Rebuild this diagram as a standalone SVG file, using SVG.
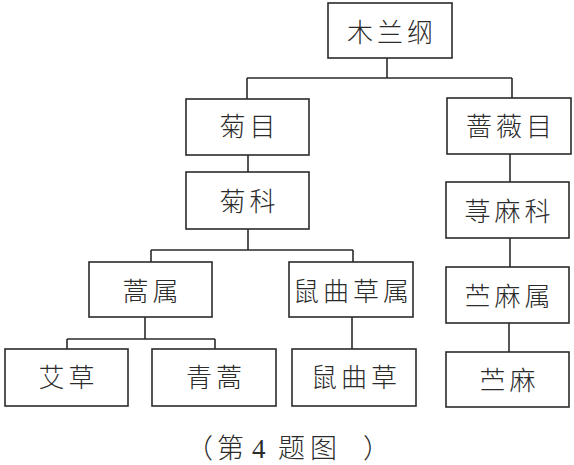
<svg xmlns="http://www.w3.org/2000/svg" width="574" height="465" viewBox="0 0 574 465">
<style>
.box{fill:#fff;stroke:#2b2b2b;stroke-width:1.6}
.lbl{font-family:"Noto Sans CJK SC","Noto Sans CJK JP",sans-serif;font-size:26px;font-weight:300;letter-spacing:4px;fill:#2b2b2b;text-anchor:middle}
.con{fill:none;stroke:#2b2b2b;stroke-width:1.6}
.cap{font-family:"Liberation Serif","Noto Sans CJK SC",serif;font-size:27px;font-weight:300;fill:#2b2b2b}
</style>
<rect width="574" height="465" fill="#fff"/>
<g id="connectors" class="con">
<path d="M387 58V78M247 78H512M247 78V99M512 78V98"/>
<path d="M248 155V172"/>
<path d="M510 154V182"/>
<path d="M248 229V250M151 250H353M151 250V262M353 250V262"/>
<path d="M510 238V267"/>
<path d="M145 317V339M67 339H215M67 339V349M215 339V349"/>
<path d="M352 317V349"/>
<path d="M509 323V352"/>
</g>
<g id="n-mulan"><rect class="box" x="328" y="3" width="124" height="55"/><text class="lbl" x="392" y="41.5">木兰纲</text></g>
<g id="n-jumu"><rect class="box" x="186" y="99" width="123" height="56"/><text class="lbl" x="249.5" y="135.5">菊目</text></g>
<g id="n-qiangweimu"><rect class="box" x="447" y="98" width="124" height="56"/><text class="lbl" x="511" y="135.5">蔷薇目</text></g>
<g id="n-juke"><rect class="box" x="186" y="172" width="123" height="57"/><text class="lbl" x="249.5" y="210.5">菊科</text></g>
<g id="n-qianmake"><rect class="box" x="446" y="182" width="123" height="56"/><text class="lbl" x="509.5" y="220.5">荨麻科</text></g>
<g id="n-haoshu"><rect class="box" x="89" y="262" width="123" height="55"/><text class="lbl" x="152.5" y="300.5">蒿属</text></g>
<g id="n-shuqucaoshu"><rect class="box" x="289" y="262" width="124" height="55"/><text class="lbl" x="353" y="300.5">鼠曲草属</text></g>
<g id="n-zhumashu"><rect class="box" x="446" y="267" width="123" height="56"/><text class="lbl" x="509.5" y="305.5">苎麻属</text></g>
<g id="n-aicao"><rect class="box" x="5" y="349" width="123" height="57"/><text class="lbl" x="68.5" y="386.5">艾草</text></g>
<g id="n-qinghao"><rect class="box" x="152" y="349" width="124" height="57"/><text class="lbl" x="216" y="386.5">青蒿</text></g>
<g id="n-shuqucao"><rect class="box" x="292" y="349" width="124" height="57"/><text class="lbl" x="356" y="386.5">鼠曲草</text></g>
<g id="n-zhuma"><rect class="box" x="446" y="352" width="123" height="55"/><text class="lbl" x="509.5" y="389.5">苎麻</text></g>
<text class="cap" x="186 217 244 252 268 278 310 363" y="458">（第 4 题图）</text>
</svg>
